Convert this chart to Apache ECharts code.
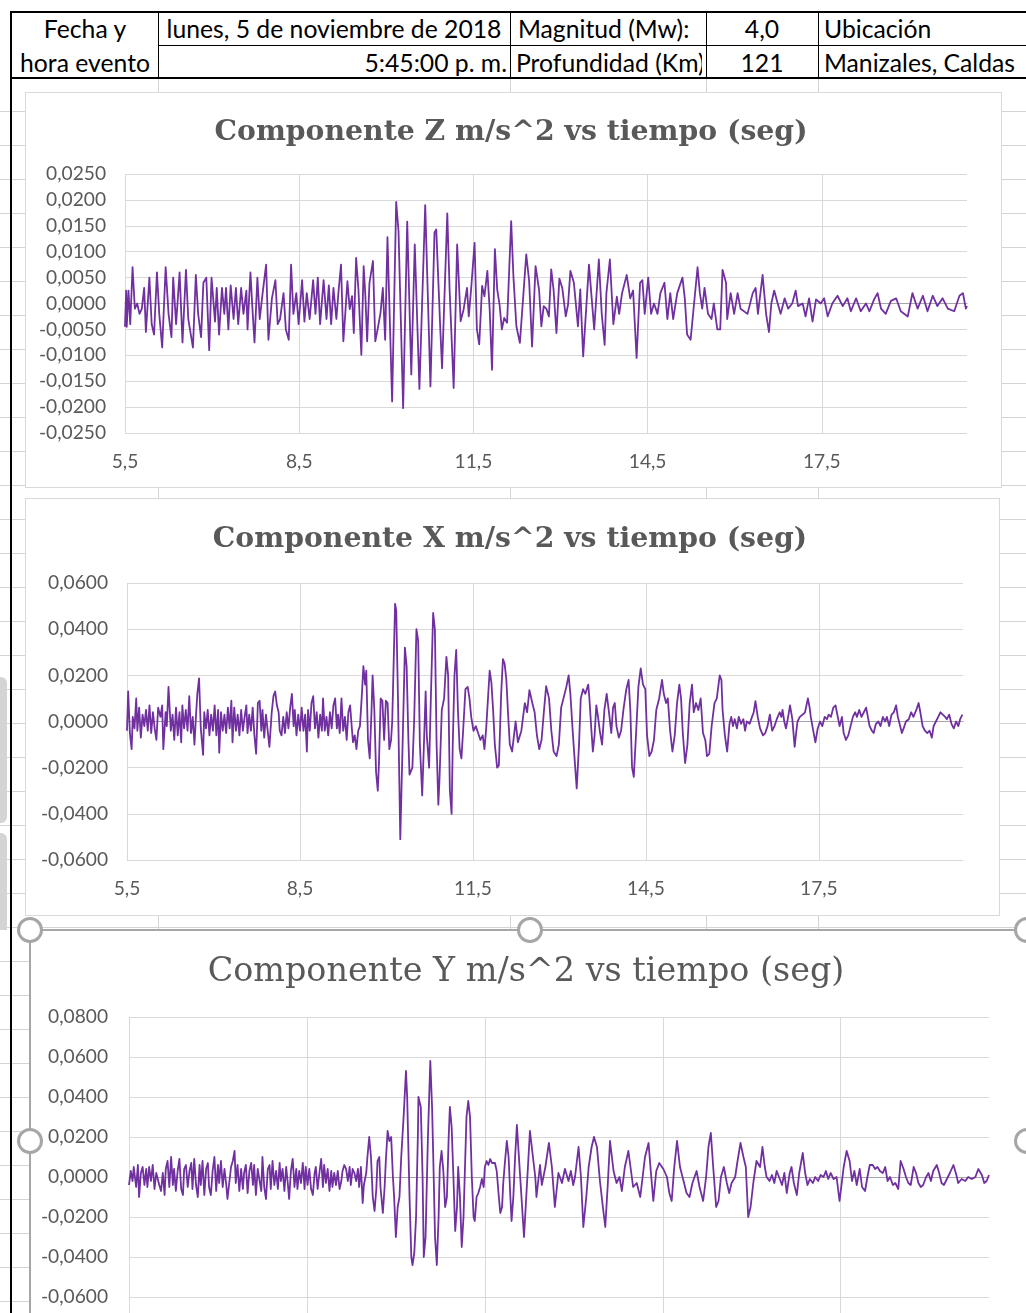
<!DOCTYPE html>
<html><head><meta charset="utf-8">
<script src="https://cdn.jsdelivr.net/npm/echarts@6/dist/echarts.min.js"></script>
<style>
html,body{margin:0;padding:0;width:1026px;height:1313px;overflow:hidden;background:#fff;}
.abs{position:absolute;}
#rows{left:0;top:78px;width:1026px;height:1300px;background:repeating-linear-gradient(to bottom,transparent 0px,transparent 33px,#d4d4d4 33px,#d4d4d4 34px);}
.vl{top:78px;width:1px;height:1300px;background:#d4d4d4;}
.blk{background:#000;}
.ht{position:absolute;height:30px;line-height:30px;white-space:nowrap;overflow:hidden;color:#000;font-family:'Lato';}
.box{background:#fff;border:1px solid #d9d9d9;box-sizing:border-box;}
.hd{position:absolute;width:20px;height:20px;border:3px solid #a6a6a6;border-radius:50%;background:#fff;z-index:5;}
#chart{position:absolute;left:0;top:0;width:1026px;height:1400px;z-index:3;}
</style></head>
<body>
<div id="rows" class="abs"></div>
<div class="abs vl" style="left:158px"></div>
<div class="abs vl" style="left:510px"></div>
<div class="abs vl" style="left:706px"></div>
<div class="abs vl" style="left:818px"></div>
<!-- header table -->
<div class="abs" style="left:12px;top:13px;width:1014px;height:64px;background:#fff"></div>
<div class="abs blk" style="left:10px;top:11px;width:1016px;height:2px"></div>
<div class="abs blk" style="left:10px;top:77px;width:1016px;height:2px"></div>
<div class="abs blk" style="left:10px;top:11px;width:2px;height:1302px"></div>
<div class="abs blk" style="left:158px;top:12px;width:1px;height:66px"></div>
<div class="abs blk" style="left:510px;top:12px;width:1px;height:66px"></div>
<div class="abs blk" style="left:706px;top:12px;width:1px;height:66px"></div>
<div class="abs blk" style="left:818px;top:12px;width:1px;height:66px"></div>
<div class="abs blk" style="left:158px;top:45px;width:868px;height:1px"></div>
<div class="ht" style="left:12px;width:146px;top:14px;text-align:center">Fecha y</div>
<div class="ht" style="left:12px;width:146px;top:48px;text-align:center">hora evento</div>
<div class="ht" id="hlong" style="left:158px;width:352px;top:14px;text-align:center">lunes, 5 de noviembre de 2018</div>
<div class="ht" style="left:158px;width:349px;top:48px;text-align:right">5:45:00 p. m.</div>
<div class="ht" style="left:518px;width:188px;top:14px">Magnitud (Mw):</div>
<div class="ht" style="left:516px;width:186px;top:48px">Profundidad (Km)</div>
<div class="ht" style="left:706px;width:112px;top:14px;text-align:center">4,0</div>
<div class="ht" style="left:706px;width:112px;top:48px;text-align:center">121</div>
<div class="ht" style="left:824px;width:202px;top:14px">Ubicación</div>
<div class="ht" style="left:824px;width:202px;top:48px">Manizales, Caldas</div>
<!-- left gray fragments -->
<div class="abs" style="left:0;top:677px;width:7px;height:146px;background:#d4d4d4;border-radius:0 6px 6px 0"></div>
<div class="abs" style="left:0;top:833px;width:7px;height:97px;background:#d4d4d4;border-radius:0 6px 0 0"></div>
<!-- chart areas -->
<div class="abs box" style="left:25px;top:92px;width:977px;height:396px"></div>
<div class="abs box" style="left:25px;top:498px;width:975px;height:418px"></div>
<div class="abs" style="left:30px;top:930px;width:1000px;height:400px;background:#fff"></div>
<div class="abs" style="left:30px;top:929px;width:1000px;height:2px;background:#a6a6a6;z-index:4"></div>
<div class="abs" style="left:29px;top:930px;width:2px;height:400px;background:#a6a6a6;z-index:4"></div>
<div class="hd" style="left:17px;top:917px"></div>
<div class="hd" style="left:517px;top:917px"></div>
<div class="hd" style="left:1014px;top:917px"></div>
<div class="hd" style="left:17px;top:1128px"></div>
<div class="hd" style="left:1014px;top:1128px"></div>
<div id="chart"></div>
<script>
// ---- data: [time (s), acceleration (m/s^2)] ----
const xTicks = [5.5, 8.5, 11.5, 14.5, 17.5];
const titles = ['Componente Z m/s^2 vs tiempo (seg)', 'Componente X m/s^2 vs tiempo (seg)', 'Componente Y m/s^2 vs tiempo (seg)'];
const compZ = [[5.50,-0.0045],[5.52,0.0025],[5.53,-0.0045],[5.56,0.0025],[5.59,-0.004],[5.63,0.007],[5.67,-0.001],[5.71,0],[5.75,-0.002],[5.79,-0.001],[5.83,0.003],[5.86,-0.0055],[5.92,0.005],[5.96,-0.004],[6.00,-0.006],[6.05,0.006],[6.09,-0.002],[6.14,-0.0085],[6.20,0.007],[6.25,-0.002],[6.30,-0.0065],[6.33,0.005],[6.38,-0.004],[6.44,0.006],[6.49,-0.0075],[6.55,0.0065],[6.59,-0.003],[6.67,-0.0085],[6.72,0.0055],[6.76,-0.002],[6.81,-0.0065],[6.85,0.004],[6.90,0.005],[6.95,-0.009],[6.99,0.005],[7.05,-0.0035],[7.08,0.003],[7.12,-0.006],[7.17,0.003],[7.21,-0.002],[7.24,0.003],[7.28,-0.005],[7.32,0.0035],[7.37,-0.003],[7.41,0.003],[7.45,-0.004],[7.50,0.003],[7.54,-0.002],[7.59,0.0025],[7.61,-0.005],[7.66,0.006],[7.70,-0.002],[7.73,-0.0075],[7.78,0.005],[7.82,-0.003],[7.87,0.002],[7.93,0.0075],[7.97,-0.007],[8.03,0.001],[8.09,0.0045],[8.13,-0.004],[8.17,-0.003],[8.23,0.002],[8.27,-0.005],[8.32,-0.007],[8.36,0.0075],[8.40,-0.002],[8.45,0.002],[8.49,-0.004],[8.55,0.0045],[8.59,-0.0035],[8.63,0.002],[8.68,-0.003],[8.74,0.0045],[8.78,-0.002],[8.82,0.005],[8.86,-0.004],[8.92,0.0045],[8.97,-0.003],[9.01,0.0035],[9.05,-0.004],[9.09,0.003],[9.14,-0.003],
[9.18,0.0027],[9.22,0.0075],[9.26,-0.0073],[9.29,-0.0025],[9.33,0.0043],[9.37,-0.0011],[9.41,0.0014],[9.44,-0.0057],[9.48,0.0088],[9.52,0.0027],[9.57,-0.0099],[9.61,0.0072],[9.64,0.0014],[9.67,-0.0073],[9.71,0.004],[9.77,0.0082],[9.81,-0.0073],[9.85,-0.005],[9.90,-0.0018],[9.94,0.003],[9.98,-0.007],[10.02,0.0128],[10.10,-0.0189],[10.17,0.0196],[10.21,0.014],[10.29,-0.0202],[10.36,0.0158],[10.43,-0.0137],[10.49,0.0114],[10.57,-0.0165],[10.67,0.019],[10.76,-0.016],[10.83,0.0137],[10.86,0.0143],[10.93,-0.005],[10.96,-0.0125],[11.05,0.0174],[11.09,0.0027],[11.16,-0.0163],[11.22,0.0114],[11.28,-0.0034],[11.33,-0.0012],[11.39,0.003],[11.42,-0.0025],[11.46,0.0027],[11.52,0.0117],[11.56,-0.005],[11.60,-0.0079],[11.65,0.0034],[11.69,0.0014],[11.74,0.0063],[11.78,-0.0011],[11.82,-0.0128],[11.87,0.0105],[11.91,0.0027],[11.95,-0.0002],[11.99,-0.005],[12.03,-0.0028],[12.08,-0.0037],[12.15,0.0159],[12.19,0.005],[12.24,-0.0044],[12.30,-0.0076],[12.36,0.0017],[12.41,0.0095],[12.46,0.0043],[12.51,-0.0083],[12.57,0.0072],[12.63,0.0027],[12.67,-0.0044],[12.71,-0.0005],[12.76,-0.0011],[12.80,-0.0025],[12.84,0.0066],[12.88,0.0027],[12.93,-0.0057],[12.98,0.0048],[13.03,0.003],[13.09,-0.0025],[13.13,-0.0002],[13.17,0.0063],[13.23,0.004],[13.30,-0.0044],[13.34,0.0027],[13.39,-0.0102],[13.49,0.0075],
[13.58,-0.005],[13.66,0.0085],[13.71,-0.002],[13.76,-0.008],[13.79,0.002],[13.85,0.0085],[13.91,-0.004],[13.97,0.0013],[14.01,-0.002],[14.06,0.002],[14.14,0.0055],[14.20,0.001],[14.25,0.0025],[14.31,-0.0105],[14.37,0.004],[14.41,0.0045],[14.45,-0.002],[14.51,0.005],[14.56,-0.002],[14.61,0],[14.67,-0.002],[14.72,0.002],[14.79,0.004],[14.84,-0.003],[14.89,0.002],[14.94,-0.003],[15.01,0.002],[15.10,0.005],[15.14,0.001],[15.18,-0.006],[15.24,-0.007],[15.30,0],[15.36,0.007],[15.40,0.002],[15.44,-0.001],[15.48,0.003],[15.54,-0.002],[15.60,-0.003],[15.64,0],[15.70,-0.005],[15.75,-0.005],[15.79,0.0065],[15.85,0.004],[15.87,-0.003],[15.93,0.002],[15.99,-0.002],[16.05,0.002],[16.10,-0.001],[16.22,-0.002],[16.31,0.002],[16.36,0.003],[16.40,-0.002],[16.48,0.0055],[16.54,-0.002],[16.59,-0.0055],[16.63,0],[16.68,0.0025],[16.74,0],[16.79,-0.002],[16.86,0.001],[16.92,-0.001],[16.99,0],[17.05,0.0025],[17.09,-0.0005],[17.17,0],[17.22,-0.0025],[17.28,0.001],[17.34,-0.0035],[17.40,0.0008],[17.48,0],[17.54,0.001],[17.60,-0.0025],[17.68,0],[17.77,0.0015],[17.86,-0.0005],[17.94,0.001],[18.00,-0.0015],[18.09,0.001],[18.17,-0.0015],[18.26,0],[18.32,-0.0015],[18.40,0.0008],[18.46,0.002],[18.52,-0.001],[18.60,-0.002],[18.69,0.0005],[18.78,0.001],[18.86,-0.0015],[18.98,-0.0025],[19.06,0.002],[19.15,-0.001],[19.24,0.0015],[19.32,-0.0015],[19.41,0.0015],[19.49,-0.0005],[19.58,0.001],[19.67,-0.001],[19.78,-0.0015],[19.87,0.0015],[19.93,0.002],[19.98,-0.001],[20.00,-0.0005]];
const compX = [[5.50,-0.004],[5.52,0.013],[5.55,-0.005],[5.58,-0.012],[5.60,0.002],[5.63,-0.003],[5.66,0.010],[5.68,-0.004],[5.71,0.006],[5.74,-0.007],[5.77,0.003],[5.80,-0.002],[5.83,0.005],[5.86,-0.004],[5.89,0.007],[5.92,-0.005],[5.95,0.004],[5.98,-0.003],[6.01,-0.008],[6.04,0.006],[6.08,0.002],[6.11,0.007],[6.13,-0.012],[6.17,0.004],[6.19,-0.002],[6.22,0.015],[6.26,-0.004],[6.29,0.003],[6.32,-0.008],[6.35,0.006],[6.38,-0.006],[6.41,0.004],[6.44,-0.009],[6.46,0.007],[6.49,-0.003],[6.52,0.005],[6.55,-0.004],[6.58,0.011],[6.61,-0.005],[6.64,0.002],[6.67,-0.010],[6.70,0.004],[6.72,0.012],[6.75,0.0187],[6.78,-0.003],[6.82,-0.0145],[6.84,0.004],[6.87,-0.003],[6.90,0.005],[6.93,-0.006],[6.96,0.003],[6.99,-0.004],[7.02,0.007],[7.05,-0.006],[7.08,0.005],[7.10,-0.0135],[7.13,0.004],[7.16,-0.004],[7.19,0.003],[7.22,-0.005],[7.25,0.006],[7.28,-0.003],[7.31,0.009],[7.33,-0.009],[7.36,0.006],[7.39,-0.004],[7.42,0.003],[7.45,-0.006],[7.48,0.005],[7.51,-0.004],[7.54,0.002],[7.57,0.007],[7.59,-0.005],[7.62,0.003],[7.65,-0.004],[7.68,0.006],[7.71,-0.006],[7.74,-0.014],[7.77,0.008],[7.80,0.009],[7.83,-0.004],[7.85,0.005],[7.88,-0.007],[7.91,0.003],[7.94,-0.004],[7.97,-0.011],[8.01,0.004],[8.04,0.011],[8.07,0.013],[8.10,0.007],[8.13,0.004],[8.15,-0.004],[8.18,-0.006],[8.21,0.002],[8.24,-0.005],[8.27,0.004],[8.30,-0.003],[8.33,0.006],[8.36,0.012],[8.39,-0.002],[8.41,0.005],[8.44,-0.006],[8.47,0.003],[8.50,-0.004],[8.53,0.006],[8.56,-0.004],[8.59,0.003],[8.62,-0.013],[8.64,0.005],[8.67,-0.004],[8.70,0.008],[8.73,0.011],[8.76,-0.003],[8.79,0.004],[8.82,-0.007],[8.85,0.003],[8.88,-0.004],[8.90,0.010],[8.93,-0.004],[8.96,0.002],[8.99,-0.006],[9.02,0.004],[9.05,-0.003],[9.08,0.007],[9.11,0.010],[9.14,-0.003],[9.16,0.003],[9.19,-0.005],[9.22,0.010],[9.25,-0.004],[9.28,0.002],[9.31,-0.008],[9.34,0.004],[9.37,0.007],[9.40,-0.003],[9.42,-0.009],[9.45,-0.006],[9.48,-0.012],[9.51,-0.004],[9.54,-0.002],[9.57,0.010],[9.60,0.024],[9.63,0.016],[9.65,0.022],[9.68,-0.008],[9.71,-0.016],[9.74,0.004],[9.76,0.020],[9.79,0.005],[9.82,-0.022],[9.85,-0.030],[9.87,-0.018],[9.90,0.010],[9.93,0.009],[9.96,-0.008],[9.99,0.009],[10.02,0.008],[10.05,-0.012],[10.08,-0.008],[10.10,0.000],[10.15,0.051],[10.17,0.048],[10.20,0.010],[10.24,-0.051],[10.28,-0.010],[10.32,0.032],[10.35,0.024],[10.38,-0.007],[10.40,-0.023],[10.45,-0.020],[10.48,0.000],[10.52,0.040],[10.55,0.035],[10.58,-0.010],[10.62,-0.032],[10.65,-0.010],[10.68,0.013],[10.70,-0.006],[10.74,-0.020],[10.77,0.010],[10.81,0.047],[10.84,0.040],[10.87,-0.010],[10.90,-0.036],[10.92,-0.025],[10.96,0.005],[11.00,0.010],[11.04,0.028],[11.07,0.020],[11.10,-0.030],[11.13,-0.040],[11.15,-0.010],[11.18,0.020],[11.21,0.031],[11.24,0.005],[11.27,-0.012],[11.30,-0.016],[11.33,-0.004],[11.37,0.014],[11.41,0.015],[11.44,0.010],[11.47,0.002],[11.51,-0.004],[11.55,-0.002],[11.59,-0.005],[11.63,-0.008],[11.67,-0.006],[11.70,-0.012],[11.73,-0.003],[11.79,0.022],[11.82,0.017],[11.85,0.005],[11.88,-0.010],[11.92,-0.020],[11.95,-0.019],[11.99,0.012],[12.02,0.027],[12.05,0.025],[12.08,0.018],[12.11,0.003],[12.14,-0.010],[12.18,-0.013],
[12.24,0.000],[12.28,-0.009],[12.34,-0.004],[12.40,0.008],[12.44,0.004],[12.48,0.0136],[12.53,0.008],[12.57,0.004],[12.61,-0.006],[12.65,-0.012],[12.69,-0.008],[12.73,0.004],[12.77,0.0153],[12.82,0.010],[12.86,-0.004],[12.90,-0.013],[12.95,-0.015],[12.99,-0.010],[13.03,0.006],[13.07,0.010],[13.12,0.015],[13.16,0.020],[13.19,0.012],[13.23,-0.004],[13.26,-0.015],[13.30,-0.029],[13.34,-0.010],[13.37,0.010],[13.41,0.014],[13.45,0.012],[13.50,0.016],[13.52,0.010],[13.55,-0.002],[13.58,-0.013],[13.61,-0.006],[13.64,0.007],[13.67,0.002],[13.70,-0.004],[13.74,-0.010],[13.78,0.005],[13.82,0.012],[13.86,0.004],[13.90,-0.005],[13.93,0.006],[13.96,0.008],[13.99,-0.002],[14.03,-0.007],[14.07,-0.004],[14.11,0.005],[14.16,0.014],[14.20,0.018],[14.23,0.005],[14.26,-0.020],[14.29,-0.024],[14.33,-0.005],[14.37,0.015],[14.41,0.023],[14.45,0.016],[14.49,0.014],[14.52,-0.006],[14.56,-0.015],[14.60,-0.013],[14.64,-0.008],[14.68,0.005],[14.73,0.010],[14.78,0.018],[14.81,0.012],[14.85,0.008],[14.88,0.010],[14.92,-0.004],[14.96,-0.013],[15.00,-0.006],[15.04,0.008],[15.08,0.016],[15.11,0.010],[15.14,-0.005],[15.18,-0.018],[15.22,-0.010],[15.26,0.008],[15.30,0.016],[15.33,0.004],[15.37,0.008],[15.41,0.005],[15.45,0.010],[15.49,-0.005],[15.53,-0.008],[15.56,-0.015],[15.60,-0.014],[15.64,-0.002],[15.69,0.008],[15.73,0.010],[15.78,0.020],[15.81,0.018],[15.83,0.005],[15.87,-0.006],[15.91,-0.013],[15.95,-0.001],[15.98,0.002],[16.01,-0.002],[16.04,0.001],[16.08,-0.003],[16.11,0.002],[16.15,-0.001],[16.19,0.001],[16.22,-0.004],[16.25,0.000],[16.30,-0.001],[16.34,0.002],[16.37,0.004],[16.40,0.0088],[16.44,0.002],[16.48,-0.003],[16.53,-0.006],[16.57,-0.005],[16.61,-0.002],[16.65,0.003],[16.69,-0.004],[16.73,-0.002],[16.77,0.001],[16.82,0.004],[16.85,0.002],[16.87,0.005],[16.90,0.000],[16.93,-0.003],[16.96,0.001],[17.00,0.007],[17.04,0.001],[17.08,-0.011],[17.11,-0.004],[17.13,0.000],[17.17,0.002],[17.22,0.003],[17.26,0.004],[17.31,0.010],[17.34,0.006],[17.36,0.002],[17.41,-0.005],[17.44,-0.009],[17.48,-0.003],[17.52,0.000],[17.56,-0.002],[17.60,0.002],[17.64,0.001],[17.67,0.003],[17.71,0.002],[17.75,0.006],[17.79,0.007],[17.82,0.003],[17.86,-0.002],[17.90,0.002],[17.93,-0.005],[17.97,-0.008],[18.01,-0.006],[18.05,-0.002],[18.09,0.002],[18.13,0.004],[18.16,0.002],[18.20,0.005],[18.24,0.002],[18.28,0.004],[18.32,0.006],[18.35,0.002],[18.38,-0.002],[18.42,-0.004],[18.45,-0.005],[18.49,-0.001],[18.53,0.000],[18.57,-0.002],[18.61,0.002],[18.65,0.000],[18.68,0.002],[18.72,-0.002],[18.76,0.003],[18.80,0.004],[18.84,0.007],[18.87,0.002],[18.90,-0.001],[18.94,-0.005],[18.97,-0.003],[19.01,0.000],[19.06,0.001],[19.10,0.004],[19.14,0.002],[19.19,0.005],[19.23,0.008],[19.26,0.004],[19.30,-0.002],[19.34,-0.004],[19.38,-0.005],[19.42,-0.004],[19.46,-0.007],[19.49,-0.002],[19.53,0.000],[19.57,0.002],[19.61,0.004],[19.65,0.003],[19.69,0.002],[19.72,0.001],[19.76,0.003],[19.80,-0.001],[19.84,-0.003],[19.88,0.000],[19.92,-0.002],[19.95,0.001],[19.99,0.003]];
const compY = [[5.50,-0.004],[5.53,0.003],[5.56,-0.002],[5.58,0.005],[5.62,-0.005],[5.65,0.006],[5.67,-0.010],[5.70,0.002],[5.73,0.005],[5.76,-0.004],[5.79,0.004],[5.81,-0.005],[5.84,0.005],[5.87,-0.002],[5.90,0.006],[5.93,-0.006],[5.96,0.002],[5.98,0.003],[6.01,-0.004],[6.04,-0.007],[6.07,0.002],[6.10,-0.009],[6.12,0.004],[6.15,0.008],[6.18,-0.005],[6.21,0.010],[6.24,-0.004],[6.26,0.004],[6.29,-0.007],[6.32,0.003],[6.35,0.009],[6.38,-0.006],[6.41,-0.009],[6.43,0.004],[6.46,0.006],[6.49,-0.005],[6.52,0.003],[6.55,0.007],[6.57,-0.006],[6.60,0.009],[6.63,-0.004],[6.66,-0.010],[6.69,0.006],[6.71,-0.004],[6.74,0.008],[6.77,-0.009],[6.80,0.004],[6.83,0.007],[6.85,-0.005],[6.88,-0.009],[6.91,0.003],[6.94,0.010],[6.97,-0.007],[7.00,0.006],[7.02,-0.003],[7.05,0.008],[7.08,-0.005],[7.11,0.004],[7.14,-0.004],[7.16,-0.011],[7.19,-0.012],[7.22,0.005],[7.25,0.008],[7.28,0.013],[7.30,-0.003],[7.33,0.006],[7.36,-0.007],[7.39,0.004],[7.42,-0.006],[7.44,0.002],[7.47,0.006],[7.50,-0.008],[7.53,0.003],[7.56,0.007],[7.59,-0.004],[7.61,0.006],[7.64,-0.009],[7.67,0.004],[7.70,0.005],[7.73,-0.007],[7.75,0.010],[7.78,-0.005],[7.81,-0.011],[7.84,0.004],[7.87,0.006],[7.89,-0.006],[7.92,0.008],[7.95,-0.004],[7.98,0.003],[8.01,-0.006],[8.04,0.007],[8.06,-0.002],[8.09,0.004],[8.12,-0.007],[8.15,0.005],[8.18,-0.004],[8.20,-0.011],[8.23,0.003],[8.26,0.009],[8.29,-0.005],[8.32,0.004],[8.34,-0.006],[8.37,0.003],[8.40,-0.003],[8.43,0.007],[8.46,-0.006],[8.48,0.005],[8.51,-0.004],[8.54,0.004],[8.57,-0.006],[8.60,-0.009],[8.63,0.002],[8.65,0.005],[8.68,-0.006],[8.71,0.002],[8.74,0.009],[8.77,-0.005],[8.79,0.006],[8.82,-0.003],[8.85,0.004],[8.88,-0.007],[8.91,0.003],[8.93,-0.005],[8.96,0.002],[8.99,-0.004],[9.02,0.003],[9.05,-0.006],[9.08,-0.002],[9.10,0.003],[9.13,0.006],[9.16,0.004],[9.19,-0.002],[9.22,0.005],[9.24,-0.004],[9.27,0.004],[9.30,0.002],[9.33,-0.002],[9.36,0.004],[9.38,-0.005],[9.41,0.005],[9.44,-0.013],[9.46,-0.004],[9.50,0.002],[9.52,0.010],[9.55,0.020],[9.58,0.010],[9.61,-0.010],[9.64,-0.017],[9.67,-0.006],[9.69,0.008],[9.72,0.010],[9.74,-0.005],[9.78,-0.018],[9.81,-0.005],[9.83,0.008],[9.86,0.023],[9.89,0.018],[9.92,0.020],[9.95,0.000],[9.97,-0.010],[10.00,-0.030],[10.03,-0.015],[10.06,-0.010],[10.09,0.010],[10.13,0.030],[10.17,0.053],[10.19,0.040],[10.23,-0.010],[10.26,-0.040],[10.28,-0.044],[10.31,-0.038],[10.34,-0.020],[10.37,0.020],[10.38,0.040],[10.42,0.035],[10.45,0.000],[10.47,-0.040],[10.50,-0.030],[10.54,0.020],[10.58,0.058],[10.61,0.035],[10.63,0.010],[10.66,-0.030],[10.69,-0.044],[10.72,-0.020],[10.74,0.005],[10.77,0.013],[10.80,0.003],[10.83,-0.015],[10.86,-0.010],[10.89,0.020],[10.91,0.035],[10.94,0.025],[10.97,0.000],[11.00,-0.027],[11.03,-0.015],[11.05,0.005],[11.08,-0.010],[11.11,-0.035],[11.14,-0.020],[11.17,0.010],[11.19,0.030],[11.22,0.038],[11.25,0.030],[11.28,0.000],[11.31,-0.020],[11.33,-0.022],[11.36,-0.010],[11.39,-0.008],[11.42,-0.005],[11.45,-0.001],[11.48,-0.005],[11.50,0.005],[11.53,0.008],[11.56,0.006],[11.59,0.009],[11.62,0.007],[11.64,0.008],[11.67,0.007],[11.70,0.003],[11.73,-0.008],[11.76,-0.018],[11.79,-0.015],[11.81,-0.003],[11.84,0.008],[11.87,0.018],[11.90,0.010],[11.93,-0.010],[11.95,-0.022],[11.98,-0.010],[12.01,0.010],[12.04,0.026],
[12.16,-0.030],[12.26,0.023],[12.35,0.000],[12.37,-0.010],[12.43,0.006],[12.46,-0.004],[12.52,0.005],[12.58,0.017],[12.63,0.005],[12.68,-0.015],[12.74,0.002],[12.80,-0.003],[12.85,0.004],[12.91,-0.002],[12.95,0.003],[12.99,-0.004],[13.02,0.000],[13.08,0.015],[13.12,0.000],[13.16,-0.025],[13.21,-0.010],[13.25,0.005],[13.30,0.015],[13.34,0.020],[13.39,0.015],[13.44,-0.002],[13.49,-0.015],[13.53,-0.025],[13.57,-0.005],[13.61,0.018],[13.67,0.003],[13.72,-0.003],[13.77,0.000],[13.81,-0.007],[13.86,0.005],[13.92,0.013],[13.96,0.004],[14.00,-0.005],[14.06,-0.003],[14.12,-0.010],[14.16,0.000],[14.20,0.010],[14.26,0.017],[14.30,0.002],[14.34,-0.012],[14.39,0.003],[14.44,0.007],[14.51,0.004],[14.57,0.000],[14.61,-0.008],[14.65,-0.012],[14.69,0.004],[14.74,0.018],[14.79,0.005],[14.85,-0.002],[14.90,-0.008],[14.95,-0.010],[15.00,-0.003],[15.07,0.003],[15.12,-0.005],[15.18,-0.012],[15.23,0.000],[15.27,0.015],[15.31,0.022],[15.35,0.005],[15.40,-0.015],[15.44,-0.012],[15.48,0.000],[15.53,0.005],[15.58,-0.003],[15.62,-0.008],[15.66,-0.003],[15.72,0.000],[15.76,0.008],[15.81,0.017],[15.86,0.010],[15.90,0.005],[15.94,-0.020],[15.98,-0.015],[16.03,-0.002],[16.08,0.008],[16.14,0.005],[16.18,0.015],[16.22,0.005],[16.25,0.000],[16.30,-0.002],[16.34,0.001],[16.38,-0.003],[16.42,0.003],[16.46,0.000],[16.51,-0.004],[16.55,0.002],[16.59,-0.008],[16.64,0.002],[16.67,0.005],[16.71,-0.003],[16.76,-0.009],[16.80,0.002],[16.86,0.012],[16.90,0.002],[16.94,-0.004],[16.98,-0.001],[17.03,-0.003],[17.07,0.000],[17.12,-0.002],[17.16,0.001],[17.21,0.000],[17.25,0.003],[17.29,-0.001],[17.33,0.002],[17.38,-0.001],[17.43,0.000],[17.48,-0.012],[17.55,0.005],[17.60,0.013],[17.65,0.008],[17.69,-0.002],[17.73,0.003],[17.77,-0.004],[17.82,0.004],[17.86,-0.005],[17.91,-0.007],[17.95,0.000],[17.99,0.006],[18.04,0.006],[18.08,0.004],[18.12,0.005],[18.16,0.003],[18.21,0.002],[18.25,0.005],[18.29,-0.002],[18.33,0.000],[18.38,-0.004],[18.42,-0.003],[18.47,-0.006],[18.51,0.008],[18.56,0.004],[18.60,0.000],[18.64,-0.003],[18.68,-0.004],[18.73,0.005],[18.77,0.002],[18.81,-0.003],[18.85,-0.005],[18.89,-0.004],[18.94,0.000],[18.98,0.002],[19.02,-0.002],[19.06,0.003],[19.12,0.006],[19.16,0.002],[19.20,-0.003],[19.24,-0.004],[19.29,-0.001],[19.34,0.002],[19.40,0.006],[19.45,0.001],[19.48,-0.003],[19.54,-0.001],[19.60,-0.002],[19.65,0.000],[19.71,-0.001],[19.77,0.000],[19.82,0.004],[19.88,0.001],[19.92,-0.003],[19.96,-0.002],[20.00,0.001]];
const yRanges = [[-0.025, 0.025, 0.005], [-0.06, 0.06, 0.02], [-0.08, 0.08, 0.02]];

// ---- font fitting helpers ----
const mctx = document.createElement('canvas').getContext('2d');
function fitSize(text, width, weight, family) {
  mctx.font = weight + ' 100px ' + family;
  return 100 * width / mctx.measureText(text).width;
}
const headSize = fitSize('lunes, 5 de noviembre de 2018', 335, 'normal', 'Lato');
document.querySelectorAll('.ht').forEach(el => { el.style.fontSize = headSize.toFixed(2) + 'px'; });
const LBL_FONT = 'Lato';
const lblSize = fitSize('0,0250', 60, 'normal', LBL_FONT);
const t1Size = fitSize(titles[0], 593, 'bold', "'DejaVu Serif'");
const t3Size = fitSize(titles[2], 637, 'normal', "'DejaVu Serif'");

function fmtY(v) { if (Math.abs(v) < 1e-9) v = 0; return v.toFixed(4).replace('.', ','); }
function fmtX(v) { return String(v).replace('.', ','); }

const grids = [
  {left: 125, top: 174, width: 842, height: 259},
  {left: 127, top: 583, width: 836, height: 277},
  {left: 129, top: 1017, width: 860, height: 320}
];
const yMargins = [19, 19, 21];
const series = [compZ, compX, compY];
const chart = echarts.init(document.getElementById('chart'), null, {renderer: 'canvas'});
const xAxis = [], yAxis = [], seriesOpt = [];
grids.forEach((g, i) => {
  xAxis.push({
    type: 'value', gridIndex: i, min: 5.5, max: 20, position: 'bottom',
    axisLine: {show: false, onZero: false}, axisTick: {show: false, customValues: xTicks},
    axisLabel: {show: i < 2, customValues: xTicks, formatter: fmtX, color: '#595959', fontFamily: LBL_FONT, fontSize: lblSize, margin: 19},
    splitLine: {show: true, lineStyle: {color: '#d9d9d9', width: 1}}
  });
  xAxis.push({
    type: 'value', gridIndex: i, min: 5.5, max: 20, z: 1,
    axisLine: {show: true, onZero: true, lineStyle: {color: '#a6a6a6', width: 1}},
    axisTick: {show: false}, axisLabel: {show: false}, splitLine: {show: false}
  });
  yAxis.push({
    type: 'value', gridIndex: i, min: yRanges[i][0], max: yRanges[i][1], interval: yRanges[i][2],
    axisLine: {show: false}, axisTick: {show: false},
    axisLabel: {formatter: fmtY, color: '#595959', fontFamily: LBL_FONT, fontSize: lblSize, margin: yMargins[i]},
    splitLine: {show: true, lineStyle: {color: '#d9d9d9', width: 1}}
  });
  seriesOpt.push({
    type: 'line', xAxisIndex: i * 2, yAxisIndex: i, data: series[i],
    showSymbol: false, symbol: 'none', silent: true, z: 3,
    lineStyle: {color: '#7030a0', width: 1.8, join: 'round'}, itemStyle: {color: '#7030a0'}
  });
});
chart.setOption({
  animation: false,
  grid: grids,
  xAxis: xAxis,
  yAxis: yAxis,
  series: seriesOpt,
  graphic: [
    {type: 'text', x: 511, y: 133, z: 10, style: {text: titles[0], font: 'bold ' + t1Size.toFixed(2) + "px 'DejaVu Serif'", fill: '#595959', align: 'center', verticalAlign: 'middle'}},
    {type: 'text', x: 510, y: 540, z: 10, style: {text: titles[1], font: 'bold ' + t1Size.toFixed(2) + "px 'DejaVu Serif'", fill: '#595959', align: 'center', verticalAlign: 'middle'}},
    {type: 'text', x: 526, y: 972, z: 10, style: {text: titles[2], font: 'normal ' + t3Size.toFixed(2) + "px 'DejaVu Serif'", fill: '#595959', align: 'center', verticalAlign: 'middle'}}
  ]
});
</script>
</body></html>
